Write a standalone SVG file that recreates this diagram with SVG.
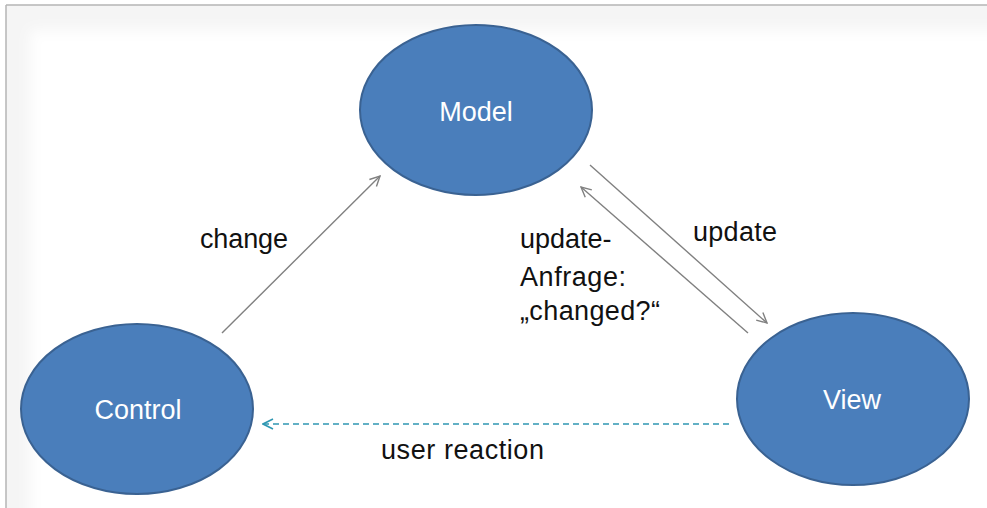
<svg xmlns="http://www.w3.org/2000/svg" width="987" height="508" viewBox="0 0 987 508">
  <defs>
    <style>
      .node { fill: #4a7ebb; stroke: #3a6292; stroke-width: 2; }
      .nlabel { font-family: "Liberation Sans", Arial, sans-serif; font-size: 27px; fill: #ffffff; text-anchor: middle; }
      .elabel { font-family: "Liberation Sans", Arial, sans-serif; font-size: 27px; fill: #111111; }
      .arrow { stroke: #808080; stroke-width: 1.4; fill: none; marker-end: url(#open); }
      .dashed { stroke: #2f97b2; stroke-width: 1.6; fill: none; stroke-dasharray: 6 4; marker-end: url(#openTeal); }
    </style>
    <marker id="open" viewBox="0 0 12 12" refX="11" refY="6" markerWidth="12" markerHeight="12" markerUnits="userSpaceOnUse" orient="auto">
      <path d="M1,1 L11,6 L1,11" fill="none" stroke="#808080" stroke-width="1.4"/>
    </marker>
    <marker id="openTeal" viewBox="0 0 12 12" refX="11" refY="6" markerWidth="12" markerHeight="12" markerUnits="userSpaceOnUse" orient="auto">
      <path d="M1,1 L11,6 L1,11" fill="none" stroke="#2f97b2" stroke-width="1.6"/>
    </marker>
    <filter id="soft" x="-5%" y="-5%" width="110%" height="110%">
      <feGaussianBlur stdDeviation="7"/>
    </filter>
  </defs>

  <rect x="0" y="0" width="987" height="508" fill="#ffffff"/>
  <rect x="6" y="5" width="981" height="503" fill="#f5f5f5"/>
  <rect x="30" y="30" width="990" height="500" fill="#ffffff" filter="url(#soft)"/>
  <line x1="6" y1="5" x2="987" y2="5" stroke="#b4b4b4" stroke-width="1.5"/>
  <line x1="6" y1="5" x2="6" y2="508" stroke="#b4b4b4" stroke-width="1.5"/>

  <g id="connectors">
    <line class="arrow" x1="222" y1="333" x2="380" y2="176"/>
    <line class="arrow" x1="590" y1="165" x2="767" y2="323"/>
    <line class="arrow" x1="748" y1="333" x2="581" y2="187"/>
    <line class="dashed" x1="729" y1="424" x2="263" y2="424"/>
    <text class="elabel" x="200" y="248" textLength="88">change</text>
    <text class="elabel" x="693" y="241" textLength="84">update</text>
    <text class="elabel" x="520" y="248">update-</text>
    <text class="elabel" x="520" y="286" textLength="106">Anfrage:</text>
    <text class="elabel" x="520" y="320" textLength="140">„changed?“</text>
    <text class="elabel" x="381" y="459" textLength="163">user reaction</text>
  </g>

  <g id="model">
    <ellipse class="node" cx="476" cy="110" rx="116" ry="85"/>
    <text class="nlabel" x="476" y="121">Model</text>
  </g>
  <g id="control">
    <ellipse class="node" cx="137" cy="409" rx="116" ry="85"/>
    <text class="nlabel" x="138" y="419">Control</text>
  </g>
  <g id="view">
    <ellipse class="node" cx="853" cy="399" rx="116" ry="86"/>
    <text class="nlabel" x="852" y="409">View</text>
  </g>
</svg>
